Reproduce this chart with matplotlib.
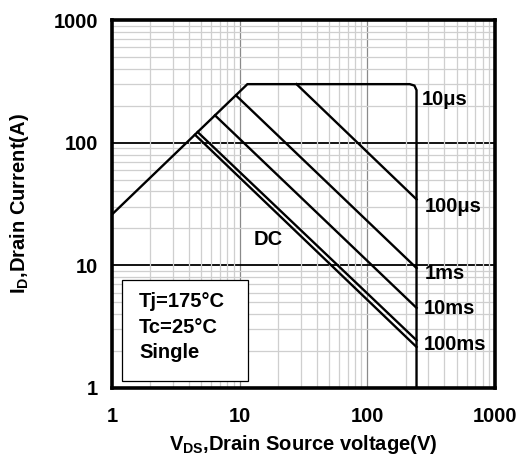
import matplotlib
matplotlib.use("Agg")
import matplotlib.pyplot as plt
from matplotlib.patches import Rectangle
from matplotlib.ticker import LogLocator, NullFormatter, FixedLocator

plt.rcParams["font.family"] = ["Liberation Sans", "DejaVu Sans"]
plt.rcParams["font.weight"] = "bold"

# safe operating area curves (V, I)
v_10us = [1, 11.5, 215, 234, 243, 243]
i_10us = [26, 300, 300, 292, 268, 1]
v_100us = [27.9, 243]
i_100us = [300, 34.5]
v_1ms = [9.35, 243]
i_1ms = [243, 9.5]
v_10ms = [6.41, 243]
i_10ms = [167, 4.5]
v_100ms = [4.69, 243]
i_100ms = [122, 2.45]
v_dc = [4.47, 243]
i_dc = [116, 2.16]

curve_labels = ["10\u03bcs", "100\u03bcs", "1ms", "10ms", "100ms", "DC"]
label_v = [266, 282, 280, 279, 276, 16.7]
label_i = [227, 30, 8.6, 4.48, 2.28, 16.1]

x_ticks = [1, 10, 100, 1000]
y_ticks = [1, 10, 100, 1000]
note_lines = ["Tj=175\u00b0C", "Tc=25\u00b0C", "Single"]

fig = plt.figure(figsize=(5.21, 4.59), dpi=100)
ax = fig.add_axes([0.215, 0.1547, 0.735, 0.8017])
ax.set_xscale("log")
ax.set_yscale("log")
ax.set_xlim(1, 1000)
ax.set_ylim(1, 1000)

# grid
ax.xaxis.set_minor_locator(LogLocator(base=10, subs=range(2, 10)))
ax.yaxis.set_minor_locator(LogLocator(base=10, subs=range(2, 10)))
ax.xaxis.set_minor_formatter(NullFormatter())
ax.yaxis.set_minor_formatter(NullFormatter())
ax.grid(which="minor", color="#cfcfcf", lw=0.9)
for xv in [10, 100]:
    ax.axvline(xv, color="#8a8a8a", lw=0.9, zorder=1)
for yv in [10, 100]:
    ax.axhline(yv, color="black", lw=1.3, zorder=1)

ax.xaxis.set_major_locator(FixedLocator(x_ticks))
ax.yaxis.set_major_locator(FixedLocator(y_ticks))
ax.set_xticklabels([str(t) for t in x_ticks])
ax.set_yticklabels([str(t) for t in y_ticks])
ax.tick_params(which="both", length=0)
ax.tick_params(axis="x", pad=14, labelsize=14.5)
ax.tick_params(axis="y", pad=10, labelsize=14.5)
for s in ax.spines.values():
    s.set_linewidth(2.6)
    s.set_zorder(5)

lw = 1.7
for vv, ii in [(v_10us, i_10us), (v_100us, i_100us), (v_1ms, i_1ms),
               (v_10ms, i_10ms), (v_100ms, i_100ms), (v_dc, i_dc)]:
    ax.plot(vv, ii, color="black", lw=lw, zorder=3, solid_joinstyle="miter")

for lab, xv, yv in zip(curve_labels, label_v, label_i):
    ha = "center" if lab == "DC" else "left"
    ax.text(xv, yv, lab, fontsize=14.5, fontweight="bold", ha=ha, va="center", zorder=4)

ax.add_patch(Rectangle((0.0253, 0.02), 0.33, 0.2735, transform=ax.transAxes,
                       facecolor="white", edgecolor="black", lw=0.9, zorder=4))
for k, line in enumerate(note_lines):
    ax.text(0.0705, 0.2337 - k * 0.0693, line, transform=ax.transAxes,
            fontsize=14.5, fontweight="bold", ha="left", va="center", zorder=6)

ax.set_xlabel(r"$\mathregular{V_{DS}}$,Drain Source voltage(V)", fontsize=14.5,
              fontweight="bold", labelpad=5)
ax.set_ylabel(r"$\mathregular{I_D}$,Drain Current(A)", fontsize=14.5,
              fontweight="bold", labelpad=16)

fig.savefig("out.png", dpi=100)
